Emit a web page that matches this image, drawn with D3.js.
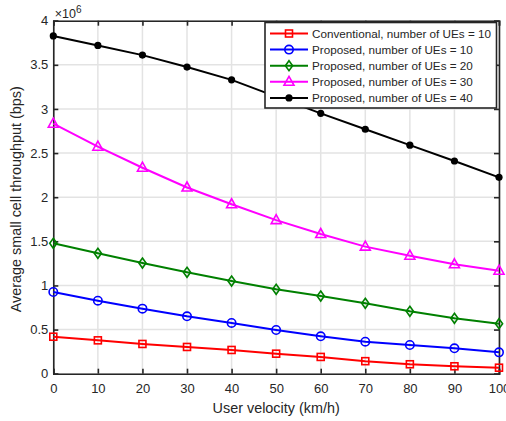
<!DOCTYPE html>
<html>
<head>
<meta charset="utf-8">
<script src="https://cdn.jsdelivr.net/npm/d3@7"></script>
<style>
body{margin:0;background:#fff;overflow:hidden}
text{font-family:"Liberation Sans",Arial,sans-serif;fill:#262626}
</style>
</head>
<body>
<div id="chart"></div>
<script>
var velocity = [0,10,20,30,40,50,60,70,80,90,100]
var conv10 = [0.419,0.378,0.337,0.303,0.269,0.227,0.190,0.142,0.107,0.084,0.068]
var prop10 = [0.926,0.827,0.737,0.650,0.575,0.495,0.424,0.363,0.325,0.288,0.242]
var prop20 = [1.478,1.364,1.254,1.149,1.050,0.956,0.880,0.798,0.707,0.628,0.567]
var prop30 = [2.833,2.572,2.334,2.110,1.920,1.740,1.583,1.440,1.337,1.240,1.167]
var prop40 = [3.827,3.720,3.610,3.475,3.330,3.140,2.950,2.770,2.590,2.410,2.225]
var seriesNames = ["Conventional, number of UEs = 10","Proposed, number of UEs = 10","Proposed, number of UEs = 20","Proposed, number of UEs = 30","Proposed, number of UEs = 40"]
var xTicks = [0,10,20,30,40,50,60,70,80,90,100]
var yTicks = [0,0.5,1,1.5,2,2.5,3,3.5,4]

var series = [
    {name:seriesNames[0],values:conv10,color:"#ff0000",marker:"square"},
    {name:seriesNames[1],values:prop10,color:"#0000ff",marker:"circle"},
    {name:seriesNames[2],values:prop20,color:"#008000",marker:"diamond"},
    {name:seriesNames[3],values:prop30,color:"#ff00ff",marker:"triangle"},
    {name:seriesNames[4],values:prop40,color:"#000000",marker:"dot"}
]

var width = 506, height = 421
var margin = {left:53.3,right:7,top:20.7,bottom:47.3}
var svg = d3.select("#chart").append("svg").attr("width",width).attr("height",height)

var x = d3.scaleLinear().domain([0,100]).range([margin.left,width-margin.right])
var y = d3.scaleLinear().domain([0,4]).range([height-margin.bottom,margin.top])

//grid
svg.append("g").selectAll("line").data(xTicks).enter().append("line")
    .attr("x1",function(d){return x(d)}).attr("x2",function(d){return x(d)})
    .attr("y1",y(0)).attr("y2",y(4))
    .attr("stroke","#e3e3e3").attr("stroke-width",1.5)
svg.append("g").selectAll("line").data(yTicks).enter().append("line")
    .attr("y1",function(d){return y(d)}).attr("y2",function(d){return y(d)})
    .attr("x1",x(0)).attr("x2",x(100))
    .attr("stroke","#e3e3e3").attr("stroke-width",1.5)

//axes
var xAxis = svg.append("g").attr("transform","translate(0,"+y(0)+")")
    .call(d3.axisBottom(x).tickValues(xTicks).tickSize(-5).tickPadding(10))
var xAxisTop = svg.append("g").attr("transform","translate(0,"+y(4)+")")
    .call(d3.axisTop(x).tickValues(xTicks).tickSize(-5).tickFormat(""))
var yAxis = svg.append("g").attr("transform","translate("+x(0)+",0)")
    .call(d3.axisLeft(y).tickValues(yTicks).tickSize(-5).tickPadding(5).tickFormat(function(d){return d3.format("")(d)}))
var yAxisRight = svg.append("g").attr("transform","translate("+x(100)+",0)")
    .call(d3.axisRight(y).tickValues(yTicks).tickSize(-5).tickFormat(""))
;[xAxis,xAxisTop,yAxis,yAxisRight].forEach(function(a){
    a.select(".domain").attr("stroke","#262626").attr("stroke-width",1.6)
    a.selectAll(".tick line").attr("stroke","#262626").attr("stroke-width",1.6)
    a.selectAll(".tick text").style("font-size","13px").attr("fill","#262626")
        .style("font-family","'Liberation Sans',Arial,sans-serif")
})

//exponent
var expo = svg.append("text").attr("x",x(0)+1.5).attr("y",17.5).style("font-size","12.5px")
expo.append("tspan").text("\u00d710")
expo.append("tspan").attr("dy",-5).style("font-size","10px").text("6")

//labels
svg.append("text").attr("x",(x(0)+x(100))/2).attr("y",413).attr("text-anchor","middle")
    .style("font-size","14.4px").text("User velocity (km/h)")
svg.append("text").attr("transform","translate(21,"+((y(0)+y(4))/2+2)+") rotate(-90)")
    .attr("text-anchor","middle").style("font-size","14.4px").text("Average small cell throughput (bps)")

function drawMarker(g,type,cx,cy,color){
    if(type=="square"){
        g.append("rect").attr("x",cx-3.5).attr("y",cy-3.5).attr("width",7).attr("height",7)
            .attr("fill","none").attr("stroke",color).attr("stroke-width",1.6)
    }else if(type=="circle"){
        g.append("circle").attr("cx",cx).attr("cy",cy).attr("r",4.2)
            .attr("fill","none").attr("stroke",color).attr("stroke-width",1.6)
    }else if(type=="diamond"){
        g.append("path").attr("d","M"+cx+","+(cy-5)+"L"+(cx+3.6)+","+cy+"L"+cx+","+(cy+5)+"L"+(cx-3.6)+","+cy+"Z")
            .attr("fill","none").attr("stroke",color).attr("stroke-width",1.6)
    }else if(type=="triangle"){
        g.append("path").attr("d","M"+cx+","+(cy-5.5)+"L"+(cx+5)+","+(cy+3.5)+"L"+(cx-5)+","+(cy+3.5)+"Z")
            .attr("fill","none").attr("stroke",color).attr("stroke-width",1.6)
    }else{
        g.append("circle").attr("cx",cx).attr("cy",cy).attr("r",3.6).attr("fill",color)
    }
}

var line = d3.line().x(function(d,i){return x(velocity[i])}).y(function(d){return y(d)})
series.forEach(function(s){
    var g = svg.append("g")
    g.append("path").datum(s.values).attr("d",line)
        .attr("fill","none").attr("stroke",s.color).attr("stroke-width",2)
    s.values.forEach(function(v,i){
        drawMarker(g,s.marker,x(velocity[i]),y(v),s.color)
    })
})

//legend
var lg = svg.append("g")
lg.append("rect").attr("x",265).attr("y",22.5).attr("width",231.5).attr("height",85.5)
    .attr("fill","#fff").attr("stroke","#262626").attr("stroke-width",1.6)
series.forEach(function(s,i){
    var ly = 33.5+i*16.1
    lg.append("line").attr("x1",270).attr("x2",308).attr("y1",ly).attr("y2",ly)
        .attr("stroke",s.color).attr("stroke-width",2)
    drawMarker(lg,s.marker,289,ly,s.color)
    lg.append("text").attr("x",312).attr("y",ly+4.2).style("font-size","11.7px").text(s.name)
})
</script>
</body>
</html>
